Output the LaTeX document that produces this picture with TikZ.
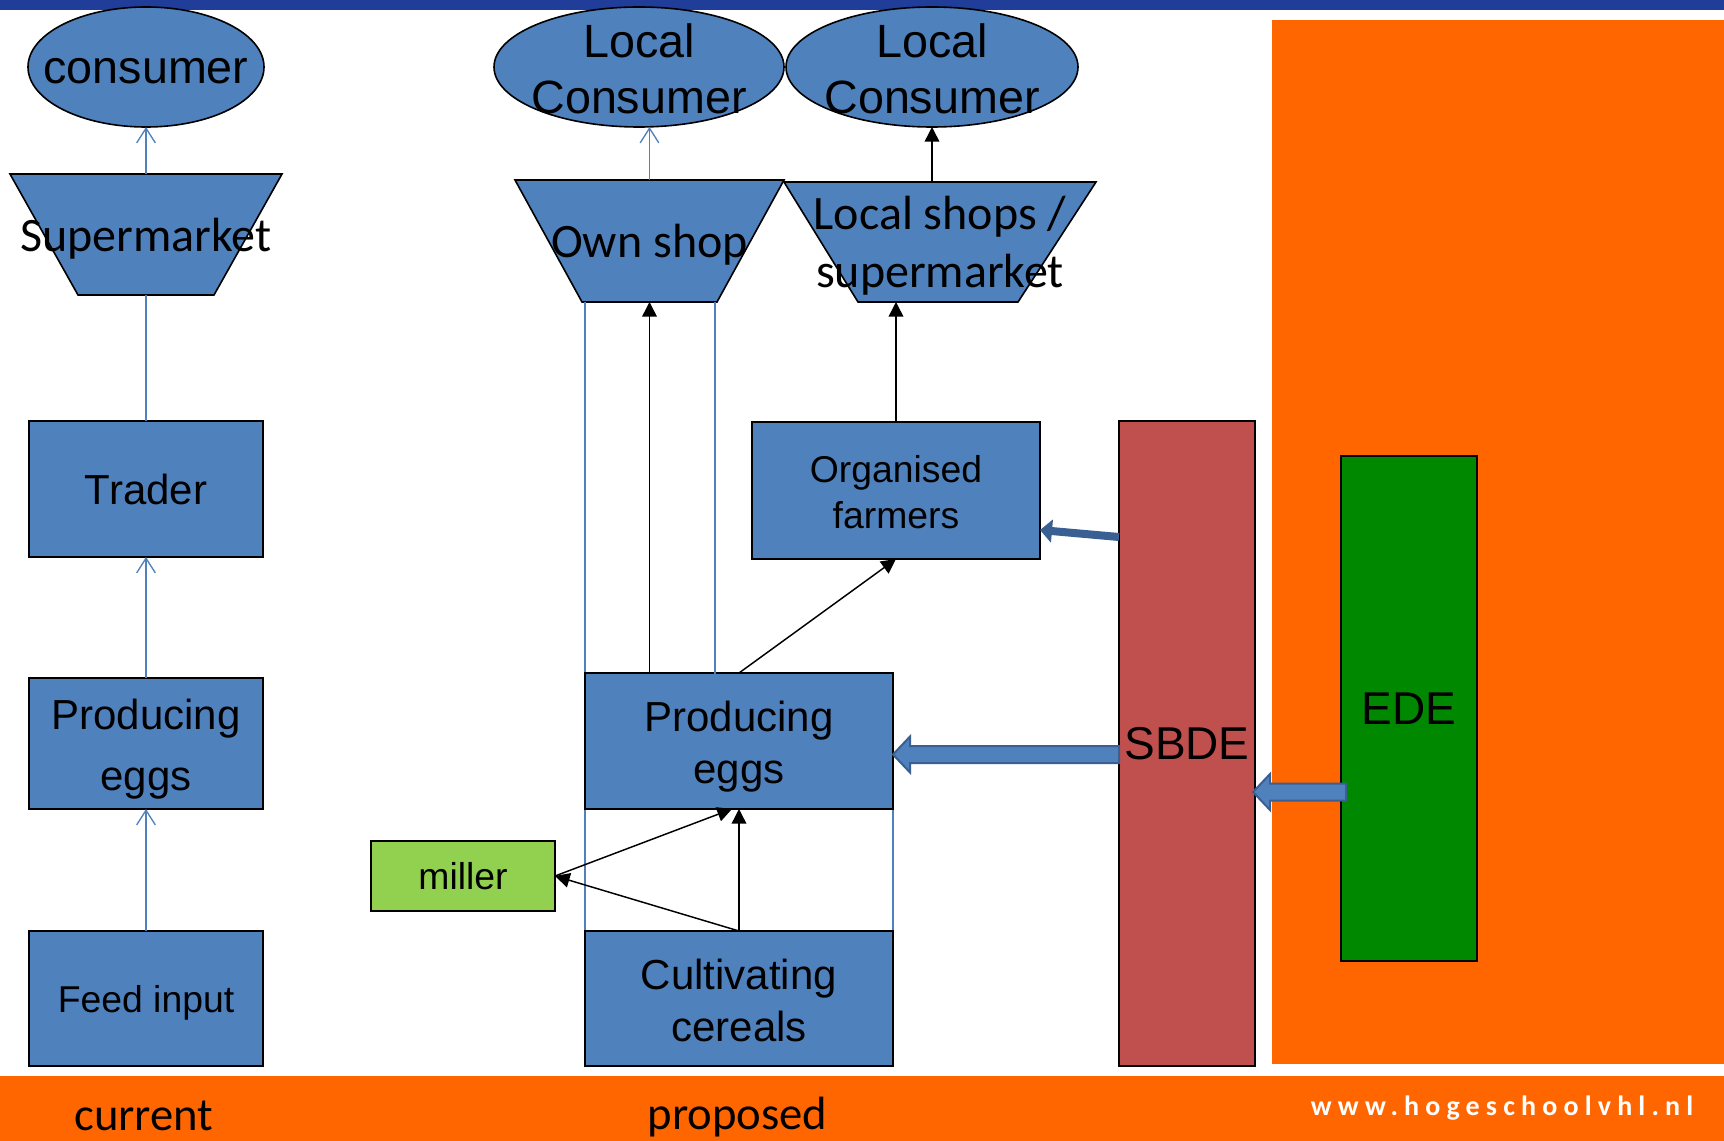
\documentclass[tikz,border=0pt]{standalone}
\usepackage{fontspec}
\setmainfont{Liberation Sans}
\newfontfamily\calibrifont{Carlito}
\newfontfamily\wwwfont{Carlito}[LetterSpace=22]
\usetikzlibrary{shapes.geometric,arrows.meta,calc}

\definecolor{boxblue}{HTML}{4F81BD}
\definecolor{darkblue}{HTML}{3A5F92}
\definecolor{topband}{HTML}{1F3D99}
\definecolor{bandorange}{HTML}{FF6600}
\definecolor{sbdered}{HTML}{C0504D}
\definecolor{edegreen}{HTML}{008800}
\definecolor{millergreen}{HTML}{92D050}

\pgfdeclarelayer{background}
\pgfsetlayers{background,main}

\tikzset{
  box/.style={draw=black, line width=1.2pt, fill=boxblue, rectangle,
    inner sep=0pt, outer sep=0pt, align=center},
  oval/.style={draw=black, line width=1.2pt, fill=boxblue, ellipse,
    inner sep=0pt, outer sep=0pt},
  txt/.style={inner sep=0pt, align=center},
  ovaltext/.style={txt, font=\fontsize{35}{42}\selectfont},
  trapframe/.style={inner sep=0pt, outer sep=0pt},
  traptext/.style={txt, font=\calibrifont\fontsize{36}{43.5}\selectfont, yshift=-3pt},
  trapfill/.style={draw=black, line width=1.2pt, fill=boxblue, line join=miter},
  blueline/.style={draw=boxblue, line width=1pt},
  bluearrow/.style={blueline, -{Straight Barb[length=11pt,width=14pt]}},
  blackarrow/.style={draw=black, line width=1.1pt, -{Triangle[length=11pt,width=11pt]}},
  thickarrow/.style={draw=darkblue, line width=6pt, -{Triangle[length=9pt,width=17pt]}},
  blockarrow/.style={draw=darkblue, line width=1.5pt, fill=boxblue, line join=miter},
  bandtext/.style={font=\calibrifont\fontsize{35}{40}\selectfont, inner sep=0pt},
  urltext/.style={font=\wwwfont\bfseries\fontsize{21}{24}\selectfont, text=white, inner sep=0pt},
}

% horizontal block arrow from #1 to the tip #2 (pointing left)
\newcommand\blockarrowpath[2]{%
  \filldraw[blockarrow] ($(#1)+(0,-8.5)$) -- ($(#2)+(17,-8.5)$) -- ($(#2)+(17,-18)$)
    -- (#2) -- ($(#2)+(17,18)$) -- ($(#2)+(17,8.5)$) -- ($(#1)+(0,8.5)$) -- cycle;}

\begin{document}
\begin{tikzpicture}[x=0.75pt, y=-0.75pt]
\useasboundingbox (0,0) rectangle (1724,1141);

% page decoration
\begin{pgfonlayer}{background}
  \fill[white] (0,0) rectangle (1724,1141);
  \fill[topband] (0,0) rectangle (1724,10);
  \fill[bandorange] (1272,20) rectangle (1724,1064);
  \fill[bandorange] (0,1076) rectangle (1724,1141);
\end{pgfonlayer}

% ---------- current chain ----------
\node[oval, minimum width=177pt, minimum height=90pt,
      label={[ovaltext, yshift=-3.5pt]center:consumer}] (consumer) at (146,67) {};
\node[trapframe, minimum width=204pt, minimum height=90.75pt,
      label={[traptext]center:Supermarket}] (super) at (146,234.5) {};
\node[box, minimum width=175.5pt, minimum height=102pt,
      label={[txt, font=\fontsize{31.5}{40}\selectfont]center:Trader}] (trader) at (146,489) {};
\node[box, minimum width=175.5pt, minimum height=98.25pt,
      label={[txt, font=\fontsize{31.5}{45.75}\selectfont, yshift=-4pt]center:Producing\\eggs}] (eggsL) at (146,743.5) {};
\node[box, minimum width=175.5pt, minimum height=101.25pt,
      label={[txt, font=\fontsize{28}{34}\selectfont, yshift=-3.5pt]center:Feed input}] (feed) at (146,998.5) {};

% ---------- proposed chain ----------
\node[oval, minimum width=217.5pt, minimum height=90pt,
      label={[ovaltext, yshift=-1pt]center:Local\\Consumer}] (lc1) at (639,67) {};
\node[oval, minimum width=219pt, minimum height=90pt,
      label={[ovaltext, yshift=-1pt]center:Local\\Consumer}] (lc2) at (932,67) {};
\node[trapframe, minimum width=201.75pt, minimum height=91.5pt,
      label={[traptext]center:Own shop}] (own) at (649.5,241) {};
\node[trapframe, minimum width=234pt, minimum height=90pt,
      label={[traptext]center:Local shops /\\supermarket}] (local) at (940,242) {};
\node[box, minimum width=216pt, minimum height=102.75pt,
      label={[txt, font=\fontsize{28}{34.5}\selectfont, yshift=-1.5pt]center:Organised\\farmers}] (farmers) at (896,490.5) {};
\node[box, minimum width=231pt, minimum height=102pt,
      label={[txt, font=\fontsize{31.5}{39}\selectfont, yshift=-4.5pt]center:Producing\\eggs}] (eggsM) at (739,741) {};
\node[box, minimum width=231pt, minimum height=101.25pt,
      label={[txt, font=\fontsize{31.5}{39}\selectfont, yshift=-1.5pt]center:Cultivating\\cereals}] (cereals) at (739,998.5) {};
\node[box, fill=millergreen, minimum width=138pt, minimum height=52.5pt,
      font=\fontsize{28}{34}\selectfont] (miller) at (463,876) {miller};

% ---------- support organisations ----------
\node[box, fill=sbdered, minimum width=102pt, minimum height=483.75pt,
      font=\fontsize{34.5}{40}\selectfont] (sbde) at (1187,743.5) {SBDE};
\node[box, fill=edegreen, minimum width=102pt, minimum height=378.75pt,
      font=\fontsize{34.5}{40}\selectfont] (ede) at (1409,708.5) {EDE};

% trapezoid outlines and side lines behind the boxes
\begin{pgfonlayer}{background}
  \filldraw[trapfill] (super.north west) -- (super.north east)
    -- ($(super.south east)+(-68,0)$) -- ($(super.south west)+(68,0)$) -- cycle;
  \filldraw[trapfill] (own.north west) -- (own.north east)
    -- ($(own.south east)+(-67,0)$) -- ($(own.south west)+(67,0)$) -- cycle;
  \filldraw[trapfill] (local.north west) -- (local.north east)
    -- ($(local.south east)+(-78,0)$) -- ($(local.south west)+(74,0)$) -- cycle;
  \coordinate (ownBL) at (eggsM.west |- own.south);
  \draw[blueline] (ownBL) -- (ownBL |- cereals.south);
  \draw[blueline] (eggsM.south east) -- (cereals.north east);
\end{pgfonlayer}
\coordinate (ownBR) at ($(own.south east)+(-69,0)$);
\draw[blueline] (ownBR) -- ($(ownBR |- eggsM.north)+(0,27)$);

% ---------- current connectors ----------
\draw[bluearrow] (super.north) -- (consumer.south);
\draw[blueline] (super.south) -- (trader.north);
\draw[bluearrow] (eggsL.north) -- (trader.south);
\draw[bluearrow] (feed.north) -- (eggsL.south);

% ---------- proposed connectors ----------
\draw[bluearrow] (own.north) -- (own.north |- lc1.south);
\draw[blackarrow] (lc2.south |- local.north) -- (lc2.south);
\draw[blackarrow] (eggsM.north -| own.south) -- (own.south);
\draw[blackarrow] (eggsM.north) -- (farmers.south);
\draw[blackarrow] (farmers.north) -- (farmers.north |- local.south);
\draw[blackarrow] (cereals.north) -- (eggsM.south);
\draw[blackarrow] (cereals.north) -- (miller.east);
\draw[blackarrow] (miller.east) -- ($(eggsM.south)+(-7,0)$);

% ---------- support arrows ----------
\coordinate (sf1) at ($(sbde.west)+(0,-206.5)$);
\coordinate (sf2) at ($(farmers.east)+(0,39.5)$);
\draw[thickarrow] (sf1) -- (sf2);
\coordinate (se1) at ($(sbde.west)+(0,11)$);
\coordinate (se2) at (eggsM.east |- se1);
\blockarrowpath{se1}{se2}
\coordinate (es1) at ($(ede.west)+(5,83.5)$);
\coordinate (es2) at ($(sbde.east |- es1)+(-2,0)$);
\blockarrowpath{es1}{es2}

% ---------- footer ----------
\node[bandtext, anchor=base] (current) at (144,1130) {current};
\node[bandtext, anchor=base] (proposed) at (737.5,1129) {proposed};
\node[urltext, anchor=base] (url) at (1502,1115) {www.hogeschoolvhl.nl};
\end{tikzpicture}
\end{document}
